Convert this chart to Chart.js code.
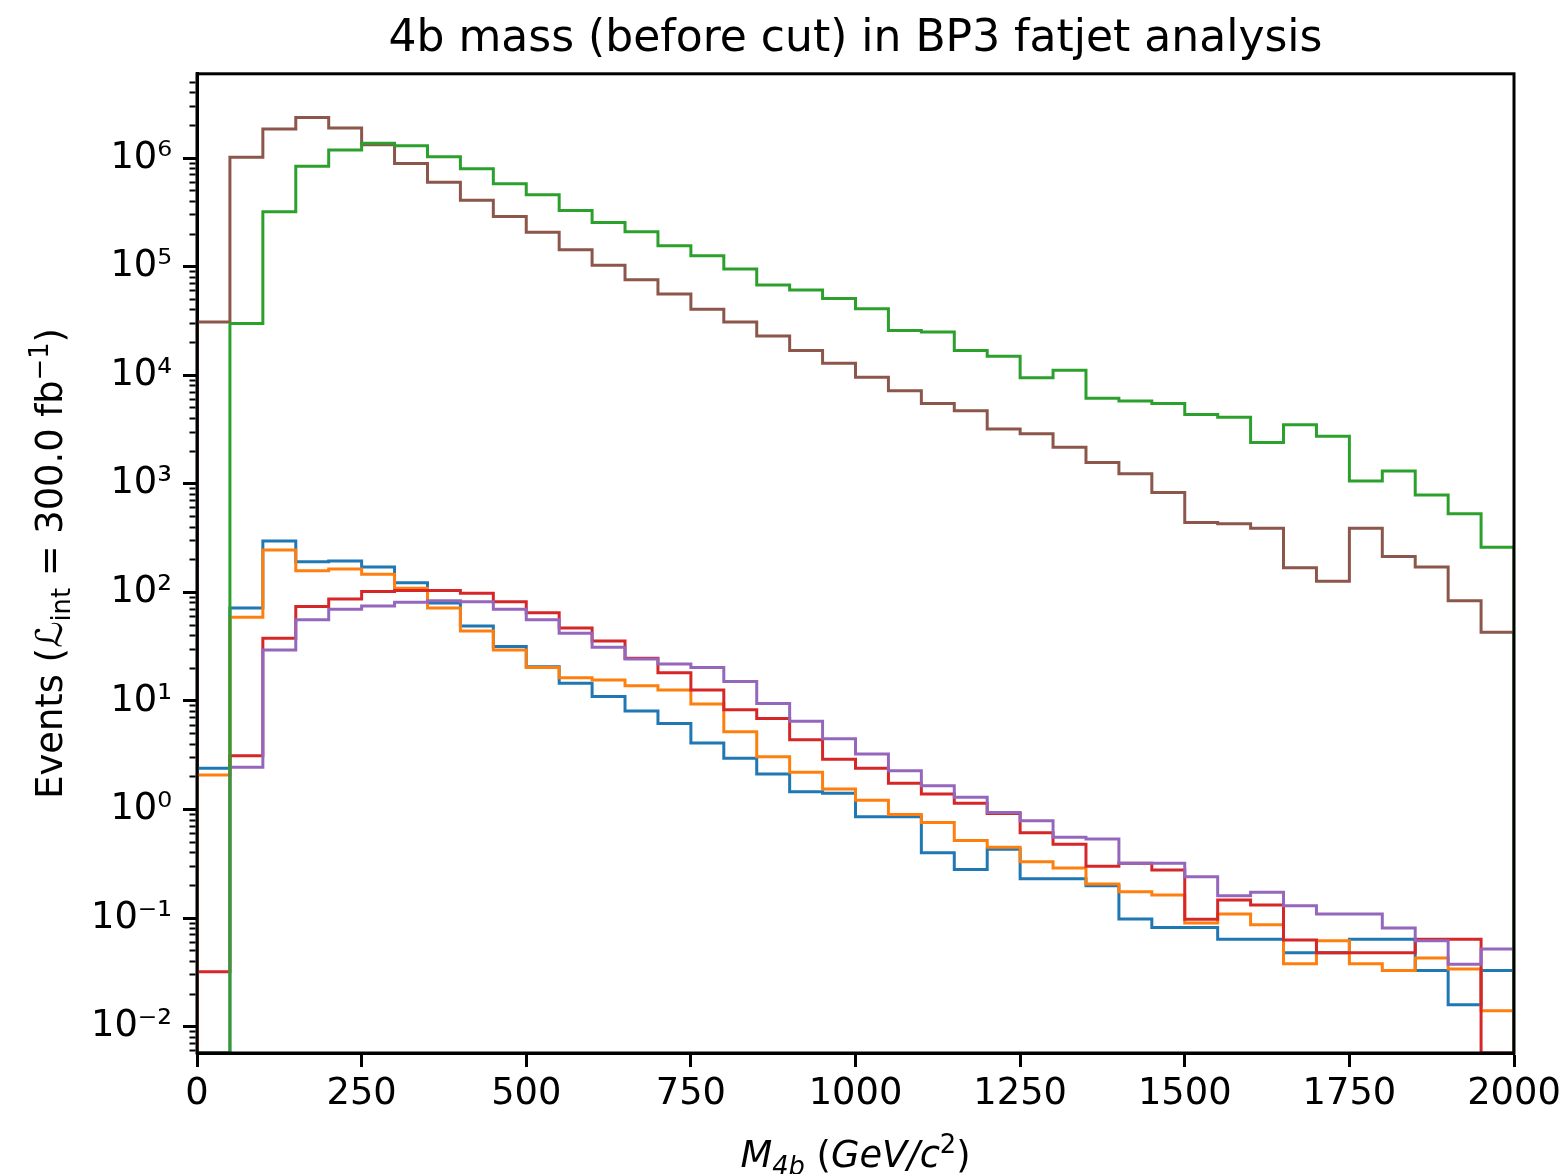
<!DOCTYPE html>
<html>
<head>
<meta charset="utf-8">
<title>4b mass (before cut) in BP3 fatjet analysis</title>
<script src="https://cdn.jsdelivr.net/npm/chart.js@4.4.1/dist/chart.umd.min.js"></script>
<style>
  html, body { margin: 0; padding: 0; background: #fff; }
  #wrap { width: 1562px; height: 1174px; position: relative; }
</style>
</head>
<body>
<div id="wrap"><canvas id="massChart"></canvas></div>
<script>
// histogram bin edges, M_4b in GeV/c^2
let binEdges = [0, 50, 100, 150, 200, 250, 300, 350, 400, 450, 500, 550, 600, 650, 700, 750, 800, 850, 900, 950,
  1000, 1050, 1100, 1150, 1200, 1250, 1300, 1350, 1400, 1450, 1500, 1550, 1600, 1650, 1700, 1750, 1800, 1850, 1900, 1950, 2000];

// events per bin (0 = empty bin)
let blueCounts = [2.4, 72, 298, 192, 195, 171, 123, 80, 49, 31.7, 20.7, 14.6, 11, 8.1, 6.2, 4.1, 2.97, 2.13, 1.46, 1.41,
  0.86, 0.86, 0.40, 0.28, 0.43, 0.23, 0.23, 0.199, 0.098, 0.082, 0.082, 0.064, 0.064, 0.048, 0.048, 0.064, 0.064, 0.033, 0.0159, 0.033];
let orangeCounts = [2.08, 59, 246, 158, 164, 147, 109, 72, 44, 29.5, 20.3, 16.4, 15.6, 13.8, 12.6, 9.4, 5.2, 3.07, 2.2, 1.55,
  1.22, 0.9, 0.76, 0.52, 0.45, 0.33, 0.29, 0.206, 0.175, 0.163, 0.09, 0.109, 0.087, 0.038, 0.062, 0.038, 0.033, 0.043, 0.034, 0.014];
let greenCounts = [0, 3.0e4, 3.2e5, 8.4e5, 1.19e6, 1.37e6, 1.3e6, 1.03e6, 8.0e5, 5.8e5, 4.6e5, 3.3e5, 2.55e5, 2.1e5, 1.56e5, 1.26e5, 9.5e4, 6.8e4, 6.1e4, 5.1e4,
  4.1e4, 2.58e4, 2.5e4, 1.69e4, 1.5e4, 9.5e3, 1.11e4, 6.15e3, 5.8e3, 5.5e3, 4.35e3, 4.1e3, 2.4e3, 3.5e3, 2.75e3, 1.06e3, 1.31e3, 790, 530, 260];
let redCounts = [0.032, 3.13, 37.8, 74, 87, 102, 104, 104, 98, 82, 65, 47, 35.7, 24.8, 18.2, 12.6, 8.3, 6.9, 4.4, 2.9,
  2.4, 1.75, 1.39, 1.14, 0.92, 0.61, 0.48, 0.30, 0.32, 0.278, 0.0975, 0.147, 0.132, 0.063, 0.048, 0.048, 0.048, 0.064, 0.064, 0];
let purpleCounts = [0, 2.45, 29.5, 56, 70, 75, 81, 84, 82, 70, 56, 42, 31.3, 24.3, 21.9, 20.3, 15.1, 9.5, 6.5, 4.5,
  3.25, 2.28, 1.66, 1.3, 0.94, 0.79, 0.556, 0.536, 0.32, 0.32, 0.241, 0.161, 0.173, 0.130, 0.109, 0.109, 0.081, 0.062, 0.0376, 0.052];
let brownCounts = [3.1e4, 1.02e6, 1.85e6, 2.37e6, 1.89e6, 1.33e6, 8.9e5, 6.0e5, 4.1e5, 2.9e5, 2.08e5, 1.43e5, 1.03e5, 7.6e4, 5.6e4, 4.06e4, 3.1e4, 2.3e4, 1.69e4, 1.29e4,
  9.6e3, 7.2e3, 5.5e3, 4.7e3, 3.2e3, 2.9e3, 2.17e3, 1.57e3, 1.24e3, 830, 440, 430, 390, 169, 127, 390, 214, 171, 84, 43];

// axis ticks
let xTickValues = [0, 250, 500, 750, 1000, 1250, 1500, 1750, 2000];
let yDecades = [-2, -1, 0, 1, 2, 3, 4, 5, 6];
let yMin = 0.005724;
let yMax = 5.979e6;

// drawOrder: lower number is painted later (on top)
let series = [
  { name: "blue", counts: blueCounts, color: "#1f77b4", drawOrder: 5 },
  { name: "orange", counts: orangeCounts, color: "#ff7f0e", drawOrder: 4 },
  { name: "green", counts: greenCounts, color: "#2ca02c", drawOrder: 0 },
  { name: "red", counts: redCounts, color: "#d62728", drawOrder: 3 },
  { name: "purple", counts: purpleCounts, color: "#9467bd", drawOrder: 2 },
  { name: "brown", counts: brownCounts, color: "#8c564b", drawOrder: 1 },
];

let baseSize = 36.8;
Chart.defaults.font.family = "'DejaVu Sans', sans-serif";
Chart.defaults.color = "#000";

// step outline like hist(histtype='step'): empty bins sit on the bottom of the log axis
function stepPoints(counts) {
  let last = binEdges.length - 1;
  let pts = [{ x: binEdges[0], y: yMin }];
  counts.forEach((c, i) => pts.push({ x: binEdges[i], y: c > 0 ? c : yMin }));
  let lastCount = counts[counts.length - 1];
  pts.push({ x: binEdges[last], y: lastCount > 0 ? lastCount : yMin });
  pts.push({ x: binEdges[last], y: yMin });
  return pts;
}

function isDecade(v) {
  let l = Math.log10(v);
  return Math.abs(l - Math.round(l)) < 1e-6;
}

let supDigits = { "-": "\u207B", "0": "\u2070", "1": "\u00B9", "2": "\u00B2", "3": "\u00B3", "4": "\u2074",
  "5": "\u2075", "6": "\u2076", "7": "\u2077", "8": "\u2078", "9": "\u2079" };
function powLabel(e) {
  return "10" + String(e).split("").map(ch => supDigits[ch]).join("");
}

// axis titles with sub/superscripts, drawn as text runs
let xTitleRuns = [
  { text: "M", italic: true },
  { text: "4b", italic: true, scale: 0.7, shift: 0.22 },
  { text: " (" },
  { text: "GeV/c", italic: true },
  { text: "2", scale: 0.7, shift: -0.4 },
  { text: ")" },
];
let yTitleRuns = [
  { text: "Events (" },
  { text: "\u2112" },
  { text: "int", scale: 0.7, shift: 0.22 },
  { text: " = 300.0 fb" },
  { text: "\u22121", scale: 0.7, shift: -0.4 },
  { text: ")" },
];

function runFont(r) {
  let size = baseSize * (r.scale || 1);
  return (r.italic ? "italic " : "") + size + "px 'DejaVu Sans'";
}

function drawRuns(ctx, runs, cx, cy, angle) {
  ctx.save();
  ctx.translate(cx, cy);
  ctx.rotate(angle);
  ctx.fillStyle = "#000";
  ctx.textBaseline = "alphabetic";
  ctx.textAlign = "left";
  let widths = runs.map(r => { ctx.font = runFont(r); return ctx.measureText(r.text).width; });
  let total = widths.reduce((a, b) => a + b, 0);
  let x = -total / 2;
  runs.forEach((r, i) => {
    ctx.font = runFont(r);
    ctx.fillText(r.text, x, baseSize * 0.36 + (r.shift || 0) * baseSize);
    x += widths[i];
  });
  ctx.restore();
}

let axesDecor = {
  id: "axesDecor",
  afterDatasetsDraw(chart) {
    let ctx = chart.ctx;
    let a = chart.chartArea;
    ctx.save();
    ctx.strokeStyle = "#000";
    ctx.lineWidth = 3;
    ctx.strokeRect(a.left, a.top, a.right - a.left, a.bottom - a.top);
    ctx.restore();
  },
  afterDraw(chart) {
    let a = chart.chartArea;
    drawRuns(chart.ctx, xTitleRuns, (a.left + a.right) / 2, chart.height - 20, 0);
    drawRuns(chart.ctx, yTitleRuns, 49, (a.top + a.bottom) / 2, -Math.PI / 2);
  },
};

let datasets = series.map((s) => ({
  label: s.name,
  data: stepPoints(s.counts),
  borderColor: s.color,
  backgroundColor: s.color,
  borderWidth: 3,
  pointRadius: 0,
  stepped: "before",
  fill: false,
  order: s.drawOrder,
}));

let ctx = document.getElementById("massChart").getContext("2d");
let massChart = new Chart(ctx, {
  type: "line",
  data: { datasets: datasets },
  options: {
    responsive: true,
    maintainAspectRatio: false,
    animation: false,
    devicePixelRatio: 1,
    layout: { padding: { left: 0, right: 48, top: 0, bottom: 0 } },
    plugins: {
      legend: { display: false },
      tooltip: { enabled: false },
      title: {
        display: true,
        fullSize: false,
        text: "4b mass (before cut) in BP3 fatjet analysis",
        color: "#000",
        font: { size: 44, weight: "normal" },
        padding: { top: 13, bottom: 8 },
      },
    },
    scales: {
      x: {
        type: "linear",
        min: 0,
        max: 2000,
        afterBuildTicks: (scale) => { scale.ticks = xTickValues.map(v => ({ value: v })); },
        afterFit: (scale) => {
          scale.height = 121;
          scale.paddingLeft = 0;
          scale.paddingRight = 0;
        },
        ticks: { callback: (v) => String(v), font: { size: baseSize }, padding: 5, maxRotation: 0, autoSkip: false },
        grid: { drawOnChartArea: false, tickLength: 14, tickWidth: 3, tickColor: "#000" },
        border: { color: "#000", width: 3 },
      },
      y: {
        type: "logarithmic",
        min: yMin,
        max: yMax,
        afterBuildTicks: (scale) => {
          let ticks = [];
          for (let e = yDecades[0] - 1; e <= yDecades[yDecades.length - 1]; e++) {
            for (let k = 1; k <= 9; k++) {
              let v = k * Math.pow(10, e);
              if (v >= yMin && v <= yMax) ticks.push({ value: v });
            }
          }
          scale.ticks = ticks;
        },
        afterFit: (scale) => { scale.width = 197; },
        ticks: {
          callback: (v) => isDecade(v) ? powLabel(Math.round(Math.log10(v))) : "",
          font: { size: baseSize },
          padding: 11,
          autoSkip: false,
        },
        grid: {
          drawOnChartArea: false,
          tickLength: 14,
          tickColor: "#000",
          tickWidth: (c) => (c.tick && isDecade(c.tick.value)) ? 3 : 2.2,
          tickBorderDash: (c) => (c.tick && isDecade(c.tick.value)) ? [] : [0, 6.5, 6, 30],
        },
        border: { color: "#000", width: 3 },
      },
    },
  },
  plugins: [axesDecor],
});
</script>
</body>
</html>
